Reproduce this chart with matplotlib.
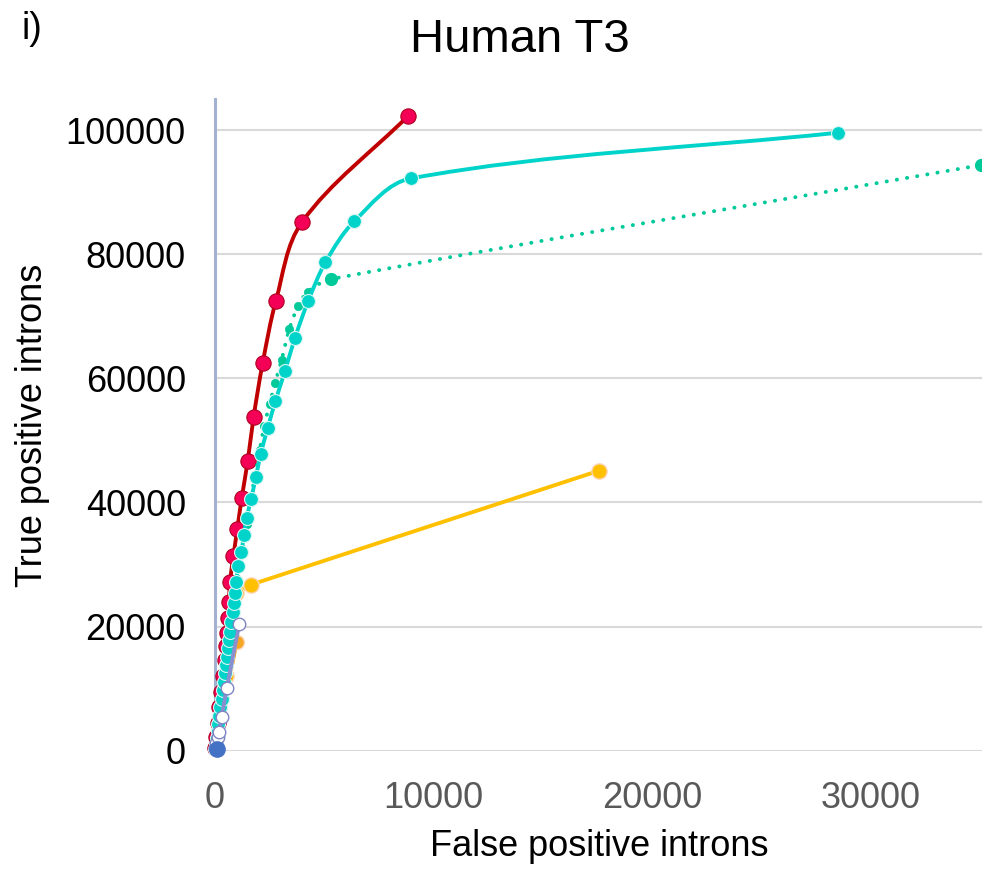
import matplotlib
matplotlib.use("Agg")
import matplotlib.pyplot as plt
import numpy as np
from matplotlib.path import Path
from matplotlib.patches import PathPatch

plt.rcParams['font.family'] = ['Liberation Sans', 'DejaVu Sans']

# ---- data: false positive vs true positive introns ----
red_fp = [10, 60, 130, 200, 280, 370, 440, 500, 550, 600, 640, 690, 840,
          1020, 1220, 1500, 1770, 2180, 2790, 3980, 8830]
red_tp = [500, 2200, 4500, 7000, 9500, 12000, 14600, 16800, 18900, 21300,
          24000, 27260, 31290, 35710, 40650, 46730, 53820, 62420, 72530,
          85160, 102250]

cyan_fp = [10, 40, 80, 120, 160, 200, 250, 300, 350, 400, 460, 505, 550,
           600, 640, 700, 750, 810, 870, 920, 970, 1070, 1200, 1330, 1450,
           1650, 1870, 2090, 2410, 2760, 3200, 3660, 4270, 5050, 6380, 8970,
           28530]
cyan_tp = [300, 1000, 2000, 3100, 4300, 5600, 7000, 8400, 9800, 11130,
           12480, 13820, 15160, 16510, 17850, 19190, 20800, 22420, 23870,
           25390, 27260, 29680, 31940, 34790, 37480, 40550, 44030, 47810,
           51940, 56290, 61130, 66520, 72480, 78660, 85320, 92210, 99580]

dot_fp = [0, 80, 200, 350, 520, 700, 880, 1060, 1250, 1450, 1650, 1850,
          2050, 2250, 2500, 2750, 3050, 3400, 3800, 4250, 5290, 35050]
dot_tp = [0, 2500, 5500, 9500, 14000, 18500, 23000, 27500, 32000, 36500,
          41000, 44500, 48500, 52300, 55800, 59200, 63000, 67900, 71600,
          73900, 75970, 94350]

yel_fp = [60, 500, 960, 1630, 17570]
yel_tp = [600, 12000, 25400, 26730, 45110]

org_fp = [30, 1000]
org_tp = [400, 17580]

lav_fp = [20, 50, 120, 200, 300, 535, 1110]
lav_tp = [400, 1200, 2260, 3070, 5390, 10060, 20390]

blue_fp = [80]
blue_tp = [200]

x_ticks = [0, 10000, 20000, 30000]
y_ticks = [0, 20000, 40000, 60000, 80000, 100000]

X_MAX, Y_MAX = 35100, 105000
AX_W_PX, AX_H_PX = 767, 651.7


def smooth_path(xs, ys):
    """Smoothed bezier through the points; tangents worked out in pixel space"""
    sx = AX_W_PX / X_MAX
    sy = AX_H_PX / Y_MAX
    pts = np.column_stack([np.asarray(xs) * sx, np.asarray(ys) * sy]).astype(float)
    n = len(pts)

    def tangent(i):
        a = pts[max(i - 1, 0)]
        b = pts[min(i + 1, n - 1)]
        d = b - a
        return d / (np.hypot(*d) or 1.0)

    verts = [pts[0]]
    codes = [Path.MOVETO]
    for i in range(n - 1):
        p1, p2 = pts[i], pts[i + 1]
        seg = np.hypot(*(p2 - p1)) / 3
        verts += [p1 + tangent(i) * seg, p2 - tangent(i + 1) * seg, p2]
        codes += [Path.CURVE4] * 3
    verts = np.array(verts) / [sx, sy]
    return Path(verts, codes)


fig = plt.figure(figsize=(9.82, 8.69), dpi=100)
ax = fig.add_axes([215 / 982, (869 - 750.7) / 869, AX_W_PX / 982, AX_H_PX / 869])
ax.set_xlim(0, X_MAX)
ax.set_ylim(0, Y_MAX)

# grid + axes styling
for y in y_ticks:
    ax.axhline(y, color='#d9d9d9', lw=1.5, zorder=0)
for s in ['top', 'right', 'bottom']:
    ax.spines[s].set_visible(False)
ax.spines['left'].set_color('#a3b1d3')
ax.spines['left'].set_linewidth(2.2)
ax.spines['left'].set_zorder(1)

ax.set_xticks(x_ticks)
ax.set_yticks(y_ticks)
ax.tick_params(axis='both', length=0, labelsize=26)
ax.tick_params(axis='x', pad=22, labelcolor='#595959')
ax.tick_params(axis='y', pad=21, labelcolor='black')

# orange + yellow
ax.plot(org_fp, org_tp, color='#f5a623', lw=2.6, marker='o', ms=10,
        mfc='#f5a623', mec='#fbd5b5', mew=1, zorder=2, clip_on=False)
ax.plot(yel_fp, yel_tp, color='#ffc000', lw=2.8, marker='o', ms=11,
        mfc='#ffc000', mec='#fbd5b5', mew=1, zorder=2.2, clip_on=False)

# red (smoothed)
ax.add_patch(PathPatch(smooth_path(red_fp, red_tp), fill=False,
                       ec='#c00000', lw=2.8, zorder=3, clip_on=False))
ax.plot(red_fp, red_tp, ls='none', marker='o', ms=11, mfc='#f50057',
        mec='#b00020', mew=0.8, zorder=3.1, clip_on=False)

# green dotted (smoothed)
ax.add_patch(PathPatch(smooth_path(dot_fp, dot_tp), fill=False,
                       ec='#00c99a', lw=2.8, ls=(0, (0.05, 2.6)),
                       capstyle='round', zorder=4, clip_on=False))
ax.plot(dot_fp, dot_tp, ls='none', marker='o', ms=6, mfc='#00c99a',
        mec='#00c99a', mew=0.5, zorder=4.1, clip_on=False)
ax.plot(dot_fp[-2:], dot_tp[-2:], ls='none', marker='o', ms=8.5,
        mfc='#00c99a', mec='#00c99a', zorder=4.2, clip_on=False)

# cyan (smoothed)
ax.add_patch(PathPatch(smooth_path(cyan_fp, cyan_tp), fill=False,
                       ec='#00d3c9', lw=2.8, zorder=5, clip_on=False))
ax.plot(cyan_fp, cyan_tp, ls='none', marker='o', ms=10, mfc='#00d3c9',
        mec='#d8f7f2', mew=0.8, zorder=5.1, clip_on=False)

# lavender with hollow markers
ax.plot(lav_fp, lav_tp, color='#8a8fd0', lw=2.8, marker='o', ms=9,
        mfc='white', mec='#7f85c4', mew=1, zorder=6, clip_on=False)

# blue point at the origin
ax.plot(blue_fp, blue_tp, ls='none', marker='o', ms=11, mfc='#4472c4',
        mec='#4472c4', zorder=7, clip_on=False)

# ---- text ----
fig.text(599 / 982, 1 - 846 / 869, 'False positive introns', fontsize=26,
         ha='center', va='center')
fig.text(33 / 982, 1 - 425 / 869, 'True positive introns', fontsize=26,
         ha='center', va='center', rotation=90)
fig.text(520 / 982, 1 - 40 / 869, 'Human T3', fontsize=34,
         ha='center', va='center')
fig.text(22 / 982, 1 - 29 / 869, 'i)', fontsize=27, ha='left', va='center')

fig.savefig('out.png', dpi=100)
